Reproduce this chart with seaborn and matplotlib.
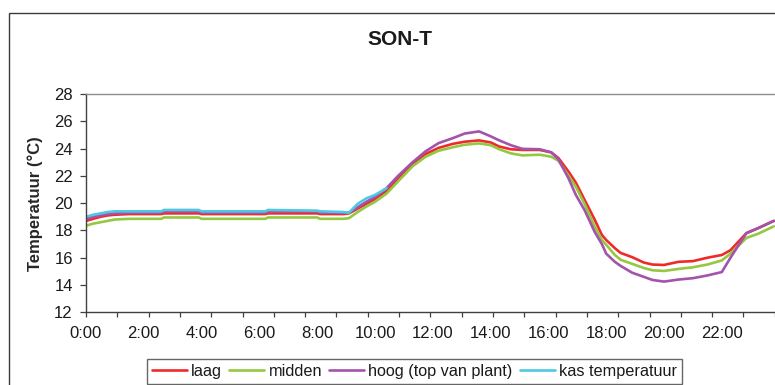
import numpy as np
import pandas as pd
import matplotlib
matplotlib.use("Agg")
import matplotlib.pyplot as plt
from matplotlib.patches import Rectangle
import seaborn as sns

# Time of day in hours
hours = [0, 0.25, 0.5, 0.75, 1.0, 1.5, 2.0, 2.6, 2.7, 3.9, 4.0, 5.0, 6.2, 6.3,
         8.0, 8.1, 8.9, 9.1, 9.4, 9.7, 10.0, 10.4, 10.8, 11.3, 11.75, 12.2,
         12.7, 13.1, 13.6, 14.0, 14.3, 14.7, 15.1, 15.7, 16.1, 16.35, 16.7,
         16.95, 17.25, 17.6, 17.85, 18.0, 18.3, 18.5, 18.9, 19.3, 19.6, 20.0,
         20.5, 21.0, 21.5, 22.0, 22.3, 22.85, 23.25, 23.8]

laag = [18.7, 18.85, 19.0, 19.1, 19.15, 19.2, 19.2, 19.2, 19.25, 19.25, 19.2,
        19.2, 19.2, 19.25, 19.25, 19.2, 19.2, 19.25, 19.6, 19.95, 20.3, 20.9,
        21.8, 22.9, 23.6, 24.05, 24.35, 24.5, 24.6, 24.45, 24.15, 23.95, 23.9,
        23.9, 23.72, 23.3, 22.3, 21.5, 20.25, 18.8, 17.67, 17.3, 16.7, 16.35,
        16.04, 15.65, 15.5, 15.47, 15.7, 15.75, 16.0, 16.2, 16.55, 17.8, 18.16,
        18.7]

midden = [18.35, 18.5, 18.6, 18.7, 18.8, 18.85, 18.85, 18.85, 18.95, 18.95,
          18.85, 18.85, 18.85, 18.95, 18.95, 18.85, 18.85, 18.9, 19.35, 19.75,
          20.1, 20.7, 21.6, 22.7, 23.4, 23.84, 24.1, 24.28, 24.38, 24.25, 23.95,
          23.65, 23.5, 23.55, 23.4, 23.1, 22.0, 21.2, 19.95, 18.3, 17.3, 16.95,
          16.2, 15.85, 15.55, 15.25, 15.08, 15.03, 15.18, 15.3, 15.5, 15.8, 16.3,
          17.45, 17.75, 18.3]

hoog = [18.85, 19.0, 19.1, 19.2, 19.25, 19.3, 19.3, 19.3, 19.4, 19.4, 19.3,
        19.3, 19.3, 19.4, 19.4, 19.3, 19.3, 19.3, 19.7, 20.1, 20.45, 21.1, 22.0,
        23.0, 23.8, 24.4, 24.77, 25.1, 25.26, 24.9, 24.6, 24.25, 23.98, 23.95,
        23.72, 23.2, 21.8, 20.6, 19.5, 17.9, 17.0, 16.3, 15.7, 15.4, 14.9, 14.6,
        14.37, 14.25, 14.4, 14.5, 14.7, 14.95, 16.0, 17.8, 18.16, 18.7]

kas = [19.0, 19.15, 19.25, 19.35, 19.4, 19.4, 19.4, 19.4, 19.5, 19.5, 19.4,
       19.4, 19.4, 19.5, 19.45, 19.4, 19.35, 19.3, 19.95, 20.35, 20.6, 21.1] \
      + [np.nan] * 34

series_names = ["laag", "midden", "hoog (top van plant)", "kas temperatuur"]
series_colors = ["#f02a2a", "#94c840", "#a453ab", "#4fc8e2"]

tick_hours = list(range(0, 24, 2))
tick_labels = ["0:00", "2:00", "4:00", "6:00", "8:00", "10:00", "12:00",
               "14:00", "16:00", "18:00", "20:00", "22:00"]

df = pd.concat([
    pd.DataFrame({"uur": hours, "temperatuur": vals, "sensor": name})
    for name, vals in zip(series_names, [laag, midden, hoog, kas])
], ignore_index=True)

sns.set_theme(style="white")
plt.rcParams["font.family"] = ["Liberation Sans", "DejaVu Sans"]
plt.rcParams["text.color"] = "#1a1a1a"

fig = plt.figure(figsize=(7.75, 3.85), dpi=100)
ax = fig.add_axes([86 / 775, 1 - 312.3 / 385, 1 - 86 / 775, (312.3 - 94) / 385])

sns.lineplot(data=df, x="uur", y="temperatuur", hue="sensor",
             hue_order=series_names, palette=series_colors, estimator=None,
             sort=False, linewidth=1.9, legend=False, ax=ax)

ax.set_xlim(0, 689 / 28.9)
ax.set_ylim(12, 28)
ax.set_yticks(range(12, 29, 2))
ax.set_xticks(tick_hours)
ax.set_xticklabels(tick_labels)
ax.set_xticks(np.arange(0, 24, 13 / 12), minor=True)
ax.xaxis.remove_overlapping_locs = False
ax.tick_params(axis="x", which="major", length=0, pad=10, labelsize=12,
               colors="#1a1a1a")
ax.tick_params(axis="x", which="minor", bottom=True, length=3.6, width=0.9,
               color="#404040")
ax.tick_params(axis="y", which="major", left=True, length=4.5, width=0.9,
               pad=5, labelsize=12, color="#404040", labelcolor="#1a1a1a")

ax.set_xlabel("")
ax.set_ylabel("Temperatuur (°C)", fontsize=12, fontweight="bold")
ax.yaxis.set_label_coords(-0.063, 0.5)

for side in ["left", "bottom"]:
    ax.spines[side].set_color("#404040")
    ax.spines[side].set_linewidth(1.0)
ax.spines["top"].set_color("#8c8c8c")
ax.spines["top"].set_linewidth(1.0)
ax.spines["right"].set_visible(False)

fig.text(400 / 775, 1 - 39.5 / 385, "SON-T", ha="center", va="center",
         fontsize=15, fontweight="bold")

handles = ax.get_lines()[:4]
leg = fig.legend(handles, series_names, loc="upper center",
                 bbox_to_anchor=(414.5 / 775, 1 - 359 / 385), ncol=4,
                 fontsize=11.7, frameon=True, fancybox=False,
                 handlelength=2.15, handletextpad=0.25, columnspacing=0.45,
                 borderpad=0.3, borderaxespad=0)
leg.get_frame().set_edgecolor("#404040")
leg.get_frame().set_linewidth(1.0)

fig.patches.append(Rectangle((9 / 775, -0.2), 1.2, 1.2 - 12.5 / 385,
                             transform=fig.transFigure, fill=False,
                             edgecolor="#3a3a3a", linewidth=1.0))

fig.savefig("out.png", dpi=100)
